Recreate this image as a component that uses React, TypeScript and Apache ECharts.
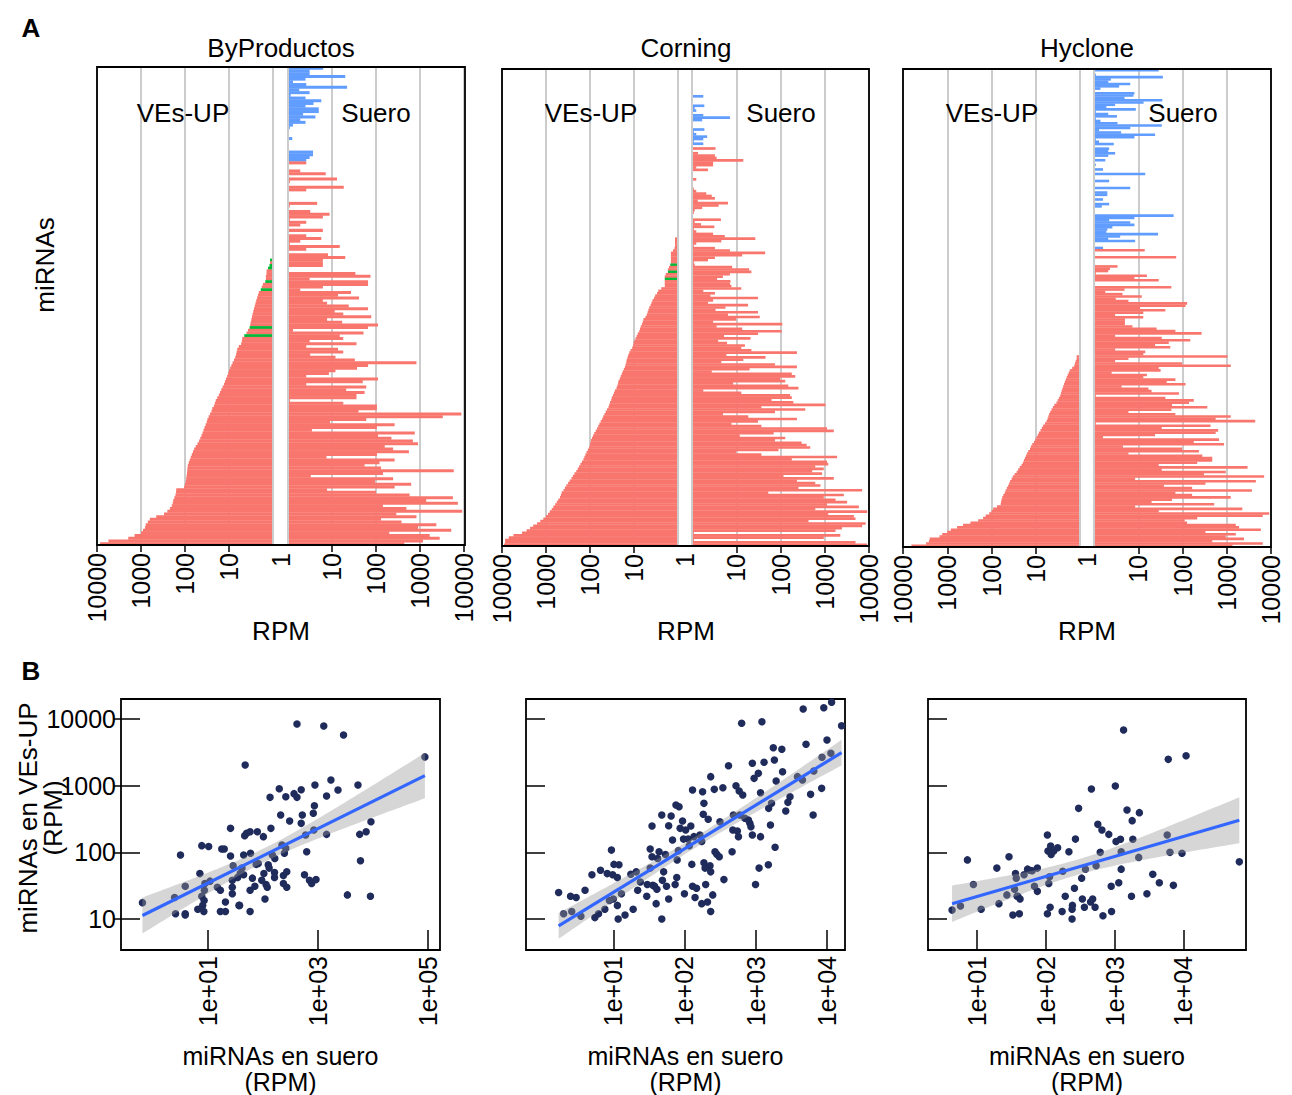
import React, { useEffect, useRef } from 'react';
import * as echarts from 'echarts';

// ---------------- DATA ----------------
const facetNames = ['ByProductos', 'Corning', 'Hyclone'];
const sideLabels = ['VEs-UP', 'Suero'];
const rpmTicks = [10, 100, 1000, 10000];

// Panel A, rows listed top -> bottom. "Suero" values (RPM), null = no bar
const byproductosSuero = [
  6.3, 3.1, 3.1, 20, 2.5, 1.3, 2.6, 22, 1.8, 3.1,
  1.15, 2.5, 5.7, 3.8, 2.5, 5, 5, 2.2, 4.2, 1.9,
  2.5, 1.3, 1.1, null, null, null, 1.25, null, null, null,
  null, 3.7, 3.7, 3.1, 2.6,
  2.6, null, null, 1.9, 7.2, null, 13, 1.1, null, 18.5, 2.6, null, null, null, null,
  4.6, 1.1, null, 3.2, 8.8, 6.2, 1.1, 2.6, 1.9, null, 6.2, null, 2.6, 5.7, 1.9, 1.1, 15, 2.6, null, 8.1, 20,
  6.2, 6.2, 6.2, null, null,
  34, 75, 3.1, 66, 66, 6.2, 1.9, 27, 13.7, 41, 6.2, 7.7, 24, 66, 11.5, 18, 78, 7.7, 17, 111,
  66, 1.3, 52, 15, 18, 3.1, 36, 2.6, 13.7, 18, 3.2, 12, 33, 830, 66, 37, 12, 8.5, 2.6, 111,
  50, 2.6, 60, 21, 55, 36, 36, 1.1, 18, 105, 105, 40, 8700, 3300, 60, 9, 265, 105, 3.5, 760,
  111, 224, 690, 900, 158, 245, 560, 105, 7.5, 265, 120, 55, 130, 5850, 144, 3.3, 245, 95, 630, 265,
  7.7, 100, 580, 5600, 1380, 7250, 144, 490, 9100, 290, 830, 130, 380, 2350, 900, 5130, 200, 1660, 2800, 1170,
  440,
];
// "VEs-UP" values (RPM) for the bottom rows, top -> bottom
const byproductosVes = [
  1.17, 1.17, 1.2, 1.3, 1.4, 1.4, 1.45, 1.45, 1.5, 1.7, 1.8, 1.9, 2.1, 2.2, 2.3, 2.4, 2.5,
  2.6, 2.7, 2.8, 2.9, 3.0, 3.1, 3.2, 3.3, 3.4, 3.7, 4.0, 4.5, 5.0, 5.1, 5.3, 6.0, 6.5,
  6.7, 6.9, 7.2, 7.7, 8.3, 8.8, 9.4, 10, 10.4, 11, 11.7, 12.3, 13, 14, 15, 16,
  17, 18.5, 20, 21, 22, 24, 25, 27, 29, 31, 32, 34, 36, 38, 40, 42, 45, 48, 52,
  57, 62, 66, 70, 74, 78, 82, 86, 88, 89, 90, 92, 94, 96, 100, 105, 158,
  160, 165, 175, 185, 190, 200, 220, 252, 300, 450, 630, 700, 780, 810, 900,
  1000, 1400, 1950, 5500, 8500,
];
const byproductosBlueRows = 35;
const byproductosGreenRows = [0, 2, 3, 8, 11, 25, 28];

const corningSuero = [
  null, null, null, null, null, null, null, null, null, null,
  null, 1.8, null, null, null, 1.9, 1.15, 1.25, null, 1.8,
  7.2, 1.7, null, null, null, 1.9, 1.1, 1.25, 2.2, 1.8,
  1.1, 1.8,
  null, 3.4, null, 1.37, 3.3, 3.6, 14.4, 3.0, 3.0, 1.25, 2.3,
  null, null, null, 1.25, null, null, null,
  1.1, 1.25, 2.1, 2.8, 3.3, 1.35, 6.5, 4, 1.7, 1.15, 1.1,
  null, null, 4.5, 1.15, 1.6, 3.2, 1.1, 1.25, 3.0, 5.5,
  27, 4.6, 1.25, 1.1, 3.3, 7.2, 45, 13.6, 3.3, 2.3, 1.1, 1.15, 8.1, 19.5, 22, 7.2, 5, 3.7, 7.4, 7.2,
  7.8, 13, 1.8, 3.3, 2.6, 31, 3.0, 2.3, 18.5, 5.7, 3.4, 31, 6.5, 34, 10, 3.0, 110, 3.6, 13.6,
  107, 31, 5.3, 21, 3.9, 6.2, 15.7, 13, 22, 235, 6.0, 46, 14.4, 4.6, 75, 235, 20, 2.8, 180, 215,
  98, 128, 8.5, 150, 255, 1.8, 13, 165, 180, 63, 195, 1040, 37, 363, 75, 5, 18.7, 235, 31, 7.8,
  37, 1125, 1600, 70, 12, 128, 75, 300, 390, 470, 90, 10, 37, 1900, 180, 1125, 1200, 610, 950, 520,
  870, 117, 1600, 235, 610, 800, 255, 7000, 53, 2700, 950, 1750, 3200, 1125, 5900, 610, 9100, 1200, 4550, 4950,
  430, 8400, 7000, 2450, 1750, 1.1, 2250, 950, 1.1, 4950, 9100,
];
const corningVes = [
  1.17, 1.17, 1.17, 1.17, 1.2, 1.3, 1.45, 1.45, 1.45, 1.45, 1.45, 1.5, 1.6, 1.7, 1.7, 1.9, 2.0,
  2.0, 2.0, 2.0, 2.0, 2.4, 2.8, 3.0, 3.3, 3.5, 3.8, 4.0, 4.2, 4.5, 4.7, 4.9, 5.1,
  5.5, 6.1, 6.3, 6.6, 7.0, 7.3, 7.6, 8.2, 8.7, 9.2, 9.8, 10.2, 10.5, 11, 12, 12.8, 13.5,
  14, 14.6, 15, 15.5, 16, 17, 18, 19, 20, 21, 22.5, 23, 24, 25, 27, 28.5, 30, 32,
  33, 35, 36.5, 38, 41, 44, 47, 50, 53, 57, 61, 65, 69, 74, 80, 85, 90, 95, 98, 100, 105,
  112, 120, 127, 134, 141, 152, 165, 178, 190, 205, 225, 245, 263, 290, 315, 345, 371,
  400, 440, 460, 480, 525, 570, 620, 680, 741, 820, 900, 1000, 1150, 1350, 1600, 1950,
  2300, 2750, 3500, 5500, 7000, 8500, 8500, 9000,
];
const corningBlueRows = 32;
const corningGreenRows = [11, 14, 17];

const hycloneSuero = [
  29, 1.05, 1.1, 36, 2.4, 2.1, 6.6, 3.7, 1.4, null,
  8.2, 7.8, 4.9, 35, 13.2, 3.0, 1.9, 8.8, 1.1, 2.1,
  3.3, 1.1, 1.4, 3.4, 34, 6.6, 1.3, 4.1, 24, 8.2,
  1.1, 1.3, 2.8, null, 2.2, 2.1, 3.0, 2.1, null, 1.8,
  null, 1.1, null, 1.6, null, 14.4, null, null, 2.2, null,
  null, 6.6, null, 2.0, 2.0, null, 1.6, null, 2.2, 1.5,
  null, 1.05, null, 63, 8.2, 2.2, 6.6, 8.2, 2.6, 2.0,
  1.9, 28, 3.9, 2.1, 8.5, null, null, 1.6,
  14, null, null, 72, 1.05, null, null, 3.4, 2.3, 2.1,
  1.1, 15.7, 8.2, 29, null, null, 56, 4.9, 1.8, 4.4,
  12, 3.1, 6, 127, 117, 11, 41, 13, 3.0, 13,
  5, 5, 5,
  7.4, 26, 69, 270, 3.0, 34, 150, 49, 24, 53, 3.0, 14.4, 13,
  1040, 6, 3.0, 98, 1230, 29, 32, 2.5, 15.7, 13, 69, 44, 117, 4.2, 17, 20, 83, 1.1, 41, 180,
  140, 58, 363, 56, 6, 69, 1230, 560, 4400, 1.1, 430, 34, 640, 560, 24, 1.6, 670, 180, 870, 4.5,
  98, 235, 6, 280, 470, 470, 215, 29, 2950, 34, 950, 305, 7000, 8.5, 4550, 330, 38, 165, 3700, 69,
  165, 1230, 58, 20, 520, 8.5, 2250, 29, 9100, 6500, 215, 112, 127, 1600, 1900, 5900, 330, 1600, 950, 2450,
  470, 6500, 1350,
];
const hycloneVes = [
  1.19, 1.19, 1.25, 1.3, 1.35, 1.5, 1.7, 1.8, 1.9, 2.0, 2.1, 2.2, 2.3, 2.4,
  2.5, 2.6, 2.7, 2.8, 3.0, 3.2, 3.4, 3.8, 4.1, 4.4, 4.7, 5.0,
  5.2, 5.4, 5.7, 6.2, 6.8, 7.3, 7.8, 8.5, 9.0, 9.6, 10.2, 11, 12, 12.8,
  13.5, 14.8, 15.8, 16.6, 17.6, 18.5, 19.5, 21, 23, 25, 27, 30, 33,
  35, 38, 40, 42, 45, 48, 50, 54, 57, 59, 61, 62, 75, 92,
  100, 113, 135, 155, 200, 300, 440, 600, 830, 1000, 1300, 1500, 2500, 2600, 3000, 6460,
];
const hycloneBlueRows = 78;
const hycloneGreenRows: number[] = [];

// Panel B: [miRNAs en suero (RPM), miRNAs en VEs-UP (RPM)]
const byproductosPoints = [
  [0.65, 17.6], [2.5, 21], [2.6, 12], [3.9, 12], [3.9, 11.5], [3.9, 31], [3.2, 91], [6.6, 14], [7.2, 48], [7.8, 126],
  [10.4, 122], [7.8, 22], [8.6, 19], [8.5, 13], [8.1, 16], [8.9, 34], [11, 37], [8.7, 27], [15, 30], [17, 27],
  [17, 13], [21, 13], [21, 18], [18, 112], [20, 112], [26, 229], [26, 88], [29, 63], [28, 38], [28, 30],
  [28, 24], [37, 16], [38, 16], [35, 42], [39, 48], [45, 46], [45, 91], [48, 2040], [47, 178], [51, 193],
  [59, 204], [60, 97], [59, 27], [59, 13], [65, 41], [72, 31], [76, 66], [80, 204], [103, 172], [110, 20],
  [105, 48], [115, 33], [121, 30], [126, 65], [131, 58], [141, 229], [136, 668], [150, 91], [164, 50], [164, 42],
  [200, 900], [212, 363], [238, 45], [238, 34], [248, 97], [263, 684], [274, 51], [274, 30], [263, 115], [309, 295],
  [371, 759], [420, 668], [501, 871], [420, 8400], [525, 363], [501, 272], [575, 46], [631, 102], [603, 182], [708, 38],
  [776, 34], [933, 39], [832, 385], [871, 501], [891, 1023], [851, 216], [1290, 7850], [1450, 700], [1450, 186], [1740, 1216],
  [2340, 861], [2950, 5750], [3470, 23], [5400, 1023], [5800, 186], [7600, 204], [9300, 288], [6000, 75], [9100, 22], [89000, 2700],
  [42, 58], [83, 68], [96, 38], [224, 129], [166, 81],
];
const corningPoints = [
  [1.7, 25], [2.0, 12], [2.5, 22], [2.6, 13], [3.0, 21], [3.5, 11], [4.0, 27], [5.0, 46], [5.5, 10.5], [6.2, 12],
  [6.6, 54], [7.6, 14], [8.2, 48], [8.8, 19], [9.4, 108], [9.8, 46], [10.2, 66], [10, 20], [11.4, 16], [11.7, 10],
  [12, 65], [11.4, 42], [13, 24], [14.6, 11.5], [17.6, 47], [19, 14], [21, 51], [22, 27], [24, 36], [29.5, 22],
  [30, 33], [33, 58], [33, 112], [35, 248], [35, 86], [36, 32], [38, 31], [40, 17], [41, 28], [42, 81],
  [44, 102], [48, 363], [48, 10], [49, 38], [51, 51], [54, 93], [56, 31], [60, 251], [60, 20], [65, 351],
  [68, 153], [74, 33], [76, 513], [78, 42], [79, 77], [82, 106], [84, 484], [87, 229], [94, 295], [97, 158],
  [100, 24], [104, 216], [113, 158], [117, 126], [123, 248], [127, 66], [130, 861], [130, 31], [136, 172], [141, 21],
  [148, 29], [165, 182], [175, 145], [175, 17], [180, 813], [184, 372], [188, 543], [188, 70], [195, 58], [199, 33],
  [211, 18], [216, 313], [229, 63], [234, 51], [234, 13], [250, 23], [234, 1365], [263, 881], [269, 102], [285, 94],
  [309, 86], [316, 288], [347, 933], [359, 39], [417, 1995], [468, 102], [488, 363], [479, 216], [531, 1000], [555, 209],
  [575, 172], [589, 832], [603, 363], [638, 8610], [661, 724], [708, 324], [794, 305], [832, 272], [861, 243], [902, 182],
  [902, 2163], [955, 1288], [1000, 33], [1096, 1531], [1122, 58], [1175, 785], [1230, 9120], [1318, 2239], [1175, 172], [1514, 65],
  [1530, 457], [1622, 257], [1680, 543], [1778, 3715], [1841, 2427], [1884, 119], [1950, 1175], [2344, 3508], [2400, 1622], [2661, 417],
  [2851, 562], [3054, 684], [3890, 1365], [4570, 1216], [4680, 14125], [5130, 4170], [5950, 741], [6460, 363], [6600, 1660], [8510, 912],
  [8610, 2661], [9120, 14790], [10120, 4840], [11480, 3055], [11750, 17780], [16220, 7940],
];
const hyclonePoints = [
  [4.3, 13.6], [5.7, 15.7], [7.2, 77], [8.8, 33], [11.4, 14], [19.3, 58], [20.7, 17], [27, 23], [29, 86], [33, 11.5],
  [36, 48], [37, 41], [35, 28], [38, 22], [41, 12], [42, 20], [39, 22], [48, 46], [54, 56], [58, 54],
  [63, 53], [68, 31], [75, 26], [75, 58], [105, 182], [107, 105], [110, 34], [113, 43], [115, 15], [105, 12],
  [117, 124], [119, 93], [130, 105], [148, 117], [176, 52], [172, 13], [191, 22], [216, 102], [260, 29], [240, 14],
  [243, 16], [240, 10], [269, 158], [299, 457], [339, 20], [331, 41], [363, 15], [376, 56], [446, 18], [459, 891],
  [479, 20], [519, 15], [537, 63], [569, 263], [617, 100], [653, 216], [676, 11.2], [822, 186], [891, 31], [902, 13],
  [1023, 988], [1047, 145], [1148, 35], [1216, 157], [1245, 56], [1245, 102], [1349, 6840], [1514, 431], [1758, 22], [1800, 299],
  [1841, 157], [2240, 84], [2290, 394], [2950, 24], [3590, 47], [4470, 35], [5820, 182], [6030, 2483], [6380, 100], [7160, 32],
  [9550, 97], [10960, 2818], [65300, 72],
];
const scatterXTicks = [[10, 1000, 100000], [10, 100, 1000, 10000], [10, 100, 1000, 10000]];
const scatterYTicks = [10, 100, 1000, 10000];

// ---------------- LAYOUT / STYLE ----------------
const FONT = 'Liberation Sans';
const RED = '#F8766D';
const BLUE = '#619CFF';
const GREEN = '#00BA38';
const facetLayout = [
  { top: 67, height: 478, left: [97, 176], right: [288, 176], frame: [97, 67, 368, 478], center: 281, up: 183, suero: 376, one: 280.5 },
  { top: 69, height: 477, left: [502, 176], right: [692, 177], frame: [502, 69, 367, 477], center: 686, up: 591, suero: 781, one: 685 },
  { top: 69, height: 478, left: [903, 177], right: [1094, 177], frame: [903, 69, 368, 478], center: 1087, up: 992, suero: 1183, one: 1087 },
];
const scatterLayout = [
  { left: 121, width: 319, xMin: 0.265, xMax: 167500 },
  { left: 526, width: 319, xMin: 0.591, xMax: 18130 },
  { left: 928, width: 318, xMin: 1.92, xMax: 81660 },
];
const scatterTop = 699;
const scatterHeight = 251;
const yMin = 3.43;
const yMax = 19950;

function txt(text: string, x: number, y: number, size = 26, rot = 0, bold = false, align = 'center', lineHeight?: number) {
  const style: any = {
    text, fontSize: size, fontFamily: FONT, fontWeight: bold ? 'bold' : 'normal', fill: '#000',
    align, textAlign: align, verticalAlign: 'middle', textVerticalAlign: 'middle',
  };
  if (lineHeight) style.lineHeight = lineHeight;
  return { type: 'text', x, y, rotation: rot, z: 50, style };
}

function fitBand(pts: number[][]) {
  const xs = pts.map((p) => Math.log10(p[0]));
  const ys = pts.map((p) => Math.log10(p[1]));
  const n = xs.length;
  const mx = xs.reduce((a, b) => a + b, 0) / n;
  const my = ys.reduce((a, b) => a + b, 0) / n;
  let sxx = 0, sxy = 0;
  for (let i = 0; i < n; i++) { sxx += (xs[i] - mx) ** 2; sxy += (xs[i] - mx) * (ys[i] - my); }
  const b = sxy / sxx;
  const a = my - b * mx;
  let sse = 0;
  for (let i = 0; i < n; i++) sse += (ys[i] - a - b * xs[i]) ** 2;
  const s = Math.sqrt(sse / (n - 2));
  const t = 1.96 + 2.4 / (n - 2);
  const x0 = Math.min(...xs), x1 = Math.max(...xs);
  const upper: number[][] = [], lower: number[][] = [];
  const steps = 80;
  for (let k = 0; k <= steps; k++) {
    const x = x0 + ((x1 - x0) * k) / steps;
    const yh = a + b * x;
    const se = s * Math.sqrt(1 / n + (x - mx) ** 2 / sxx);
    upper.push([10 ** x, 10 ** (yh + t * se)]);
    lower.push([10 ** x, 10 ** (yh - t * se)]);
  }
  const line = [[10 ** x0, 10 ** (a + b * x0)], [10 ** x1, 10 ** (a + b * x1)]];
  return { upper, lower, line };
}

function buildOption() {
  const grid: any[] = [], xAxis: any[] = [], yAxis: any[] = [], series: any[] = [], graphic: any[] = [];
  const tickLine = { color: '#000', width: 1.5 };
  const facets = [
    { right: byproductosSuero, left: byproductosVes, blue: byproductosBlueRows, green: byproductosGreenRows },
    { right: corningSuero, left: corningVes, blue: corningBlueRows, green: corningGreenRows },
    { right: hycloneSuero, left: hycloneVes, blue: hycloneBlueRows, green: hycloneGreenRows },
  ];

  facets.forEach((fc, f) => {
    const L = facetLayout[f];
    const n = fc.right.length;
    const offset = n - fc.left.length;
    const rows = Array.from({ length: n }, (_, i) => i);
    const greenSet = new Set(fc.green);
    [0, 1].forEach((side) => {
      const gi = grid.length;
      const [gl, gw] = side === 0 ? L.left : L.right;
      grid.push({ left: gl, top: L.top, width: gw, height: L.height });
      xAxis.push({
        type: 'log', logBase: 10, gridIndex: gi, min: 1, max: 10000, inverse: side === 0, position: 'bottom',
        axisLine: { show: false, onZero: false },
        axisTick: { show: true, length: 7, customValues: rpmTicks, lineStyle: tickLine },
        axisLabel: {
          show: true, customValues: rpmTicks, rotate: 90, margin: 8, fontSize: 25, color: '#000', fontFamily: FONT,
          formatter: (v: number) => String(Math.round(v)),
        },
        splitLine: { show: true, lineStyle: { color: '#CCCCCC', width: 2 } },
      });
      yAxis.push({ type: 'category', gridIndex: gi, data: rows, inverse: true, show: false });
      let data: any[];
      if (side === 0) {
        data = rows.map((i) => {
          const k = i - offset;
          if (k < 0) return '-';
          const v = fc.left[k];
          if (v == null) return '-';
          return { value: v, itemStyle: { color: greenSet.has(k) ? GREEN : RED } };
        });
      } else {
        data = rows.map((i) => {
          const v = fc.right[i];
          if (v == null) return '-';
          return { value: v, itemStyle: { color: i < fc.blue ? BLUE : RED } };
        });
      }
      series.push({
        type: 'bar', xAxisIndex: gi, yAxisIndex: gi, data, barWidth: '112%', silent: true,
        itemStyle: { opacity: 1 },
        markLine: {
          silent: true, symbol: 'none', label: { show: false },
          lineStyle: { color: '#CCCCCC', width: 2, type: 'solid' },
          data: [{ xAxis: 1 }],
        },
      });
    });
    const [fx, fy, fw, fh] = L.frame;
    graphic.push({ type: 'rect', z: 50, shape: { x: fx, y: fy, width: fw, height: fh }, style: { fill: 'none', stroke: '#000', lineWidth: 1.8 } });
    graphic.push(txt(facetNames[f], L.center, 48));
    graphic.push(txt(sideLabels[0], L.up, 113));
    graphic.push(txt(sideLabels[1], L.suero, 113));
    graphic.push(txt('RPM', L.center, 631));
    graphic.push(txt('1', L.one, 553, 25, Math.PI / 2, false, 'right'));
  });

  const pointSets = [byproductosPoints, corningPoints, hyclonePoints];
  pointSets.forEach((pts, p) => {
    const S = scatterLayout[p];
    const gi = grid.length;
    grid.push({
      left: S.left, top: scatterTop, width: S.width, height: scatterHeight,
      show: true, borderColor: '#000', borderWidth: 1.8, backgroundColor: 'transparent',
    });
    xAxis.push({
      type: 'log', logBase: 10, gridIndex: gi, min: S.xMin, max: S.xMax, position: 'bottom',
      axisLine: { show: false, onZero: false },
      axisTick: { show: true, inside: true, length: 20, customValues: scatterXTicks[p], lineStyle: tickLine },
      axisLabel: {
        show: true, customValues: scatterXTicks[p], rotate: 90, margin: 6, fontSize: 25, color: '#000', fontFamily: FONT,
        formatter: (v: number) => { const e = Math.round(Math.log10(v)); return '1e+' + (e < 10 ? '0' : '') + e; },
      },
      splitLine: { show: false },
    });
    if (p === 0) {
      yAxis.push({
        type: 'log', logBase: 10, gridIndex: gi, min: yMin, max: yMax, position: 'left', offset: -19,
        axisLine: { show: false, onZero: false },
        axisTick: { show: true, inside: false, length: 27, customValues: scatterYTicks, lineStyle: tickLine },
        axisLabel: {
          show: true, customValues: scatterYTicks, margin: 24, fontSize: 25, color: '#000', fontFamily: FONT,
          formatter: (v: number) => String(Math.round(v)),
        },
        splitLine: { show: false },
      });
    } else {
      yAxis.push({
        type: 'log', logBase: 10, gridIndex: gi, min: yMin, max: yMax, position: 'left',
        axisLine: { show: false, onZero: false },
        axisTick: { show: true, inside: true, length: 19, customValues: scatterYTicks, lineStyle: tickLine },
        axisLabel: { show: false },
        splitLine: { show: false },
      });
    }
    series.push({
      type: 'scatter', xAxisIndex: gi, yAxisIndex: gi, data: pts, symbolSize: 7.5, z: 2, silent: true,
      itemStyle: { color: '#1F2B5A', opacity: 1 },
    });
    const fit = fitBand(pts);
    series.push({
      type: 'custom', xAxisIndex: gi, yAxisIndex: gi, z: 3, silent: true, clip: true,
      data: [fit.line[0]],
      renderItem: (_params: any, api: any) => {
        const poly = fit.upper.map((pt) => api.coord(pt)).concat(fit.lower.slice().reverse().map((pt) => api.coord(pt)));
        return { type: 'polygon', shape: { points: poly }, style: { fill: 'rgba(153,153,153,0.4)' } };
      },
    });
    series.push({
      type: 'line', xAxisIndex: gi, yAxisIndex: gi, data: fit.line, showSymbol: false, z: 4, silent: true,
      lineStyle: { color: '#3366FF', width: 3.2 },
    });
    const cx = S.left + S.width / 2;
    graphic.push(txt('miRNAs en suero\n(RPM)', cx, 1068.5, 25, 0, false, 'center', 26));
  });

  graphic.push(txt('A', 31, 28, 26, 0, true));
  graphic.push(txt('B', 31, 671, 26, 0, true));
  graphic.push(txt('miRNAs', 45, 265, 26, Math.PI / 2));
  graphic.push(txt('miRNAs en VEs-UP', 28, 818, 26, Math.PI / 2));
  graphic.push(txt('(RPM)', 53, 818, 26, Math.PI / 2));

  return {
    animation: false,
    backgroundColor: '#ffffff',
    textStyle: { fontFamily: FONT },
    grid, xAxis, yAxis, series, graphic,
  };
}

export default function App() {
  const ref = useRef<HTMLDivElement>(null);
  useEffect(() => {
    const chart = echarts.init(ref.current as HTMLDivElement, null, { renderer: 'svg' });
    chart.setOption(buildOption() as any);
    return () => chart.dispose();
  }, []);
  return (
    <div
      ref={ref}
      style={{ position: 'absolute', left: 0, top: 0, width: 1292, height: 1095, background: '#fff' }}
    />
  );
}
